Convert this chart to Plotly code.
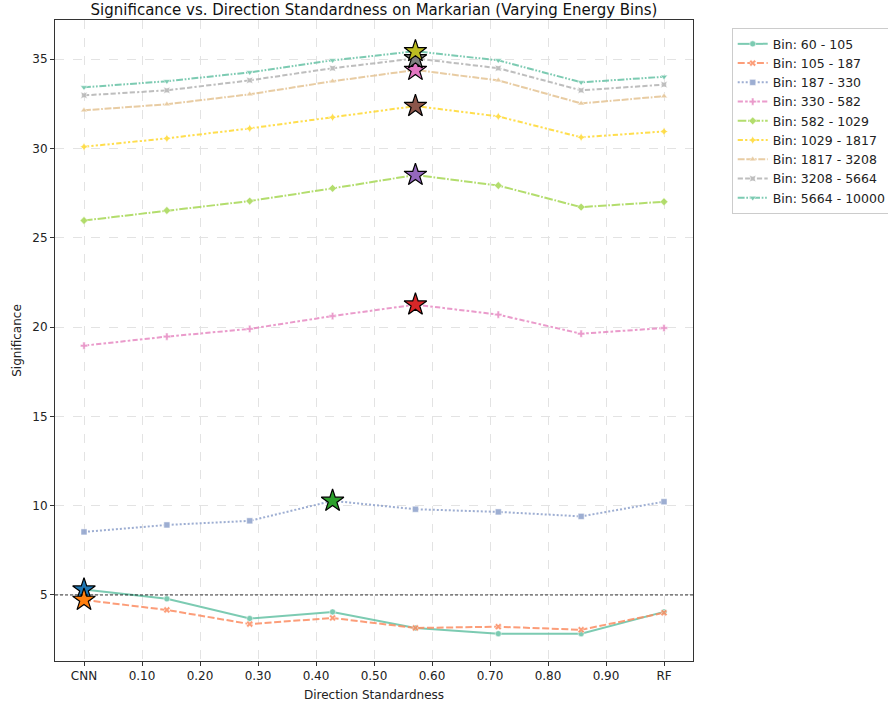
import plotly.graph_objects as go
import numpy as np

# Direction standardness levels (CNN = 0, RF = 1)
standardness = [0, 1/7, 2/7, 3/7, 4/7, 5/7, 6/7, 1]
tick_vals = [0, 0.1, 0.2, 0.3, 0.4, 0.5, 0.6, 0.7, 0.8, 0.9, 1.0]
tick_text = ["CNN", "0.10", "0.20", "0.30", "0.40", "0.50", "0.60", "0.70", "0.80", "0.90", "RF"]

bin_labels = ["Bin: 60 - 105", "Bin: 105 - 187", "Bin: 187 - 330", "Bin: 330 - 582",
              "Bin: 582 - 1029", "Bin: 1029 - 1817", "Bin: 1817 - 3208",
              "Bin: 3208 - 5664", "Bin: 5664 - 10000"]

sig_60_105 = [5.30, 4.78, 3.68, 4.05, 3.15, 2.83, 2.83, 4.05]
sig_105_187 = [4.72, 4.16, 3.37, 3.71, 3.15, 3.22, 3.05, 4.00]
sig_187_330 = [8.53, 8.92, 9.15, 10.27, 9.80, 9.65, 9.40, 10.22]
sig_330_582 = [18.96, 19.47, 19.90, 20.62, 21.26, 20.70, 19.63, 19.95]
sig_582_1029 = [25.97, 26.53, 27.06, 27.77, 28.52, 27.93, 26.72, 27.02]
sig_1029_1817 = [30.10, 30.57, 31.13, 31.75, 32.38, 31.80, 30.63, 30.96]
sig_1817_3208 = [32.14, 32.48, 33.04, 33.77, 34.40, 33.82, 32.53, 32.93]
sig_3208_5664 = [32.98, 33.26, 33.82, 34.50, 35.05, 34.50, 33.26, 33.58]
sig_5664_10000 = [33.43, 33.77, 34.27, 34.94, 35.45, 34.94, 33.71, 34.02]

series = [sig_60_105, sig_105_187, sig_187_330, sig_330_582, sig_582_1029,
          sig_1029_1817, sig_1817_3208, sig_3208_5664, sig_5664_10000]

threshold = 5

line_colors = ["#66c2a5", "#fc8d62", "#8da0cb", "#e78ac3", "#a6d854",
               "#ffd92f", "#e5c494", "#b3b3b3", "#66c2a5"]
star_colors = ["#1f77b4", "#ff7f0e", "#2ca02c", "#d62728", "#9467bd",
               "#8c564b", "#e377c2", "#7f7f7f", "#bcbd22"]
dashes = ["solid", "7px,2.6px", "2px,2px", "5.2px,2.2px,2.6px,2.2px",
          "8.6px,1.7px,1.7px,1.7px",
          "5.2px,2.2px,2.2px,2.2px,2.2px,2.2px",
          "6.9px,1.7px,6.9px,1.7px,1.7px,1.7px",
          "5.2px,2.2px,5.2px,2.2px,2.2px,2.2px",
          "6.9px,1.7px,1.7px,1.7px,1.7px,1.7px"]
symbols = ["circle", "x", "square", "cross", "diamond", "star-diamond",
           "triangle-up", "star-square", "triangle-down"]

fig = go.Figure()

for name, vals, col, dash, sym in zip(bin_labels, series, line_colors, dashes, symbols):
    fig.add_trace(go.Scatter(
        x=standardness, y=vals, name=name, mode="lines+markers",
        line=dict(color=col, width=2, dash=dash),
        marker=dict(symbol=sym, size=6, color=col, line=dict(color="white", width=0.5)),
        opacity=0.85,
    ))

# Star at the best significance of each bin
for vals, sc in zip(series, star_colors):
    i = int(np.argmax(vals))
    fig.add_trace(go.Scatter(
        x=[standardness[i]], y=[vals[i]], mode="markers", showlegend=False,
        marker=dict(symbol="star", size=17, color=sc, line=dict(color="black", width=1.2)),
    ))

fig.add_hline(y=threshold, line=dict(color="black", width=0.8, dash="3px,2px"))

axis_common = dict(
    showline=True, mirror=True, linecolor="#333333", linewidth=1,
    ticks="outside", ticklen=4, tickcolor="#333333",
    showgrid=True, gridcolor="#e3e3e3", griddash="dash", gridwidth=1,
    zeroline=False, tickfont=dict(size=12, color="#222222"), automargin=False,
)

fig.update_xaxes(range=[-0.05, 1.05], tickvals=tick_vals, ticktext=tick_text,
                 title=dict(text="Direction Standardness", font=dict(size=12, color="#222222"), standoff=8),
                 **axis_common)
fig.update_yaxes(range=[1.3, 37.2], tickvals=[5, 10, 15, 20, 25, 30, 35],
                 title=dict(text="Significance", font=dict(size=12, color="#222222"), standoff=8),
                 **axis_common)

fig.update_layout(
    width=888, height=706,
    margin=dict(l=55, r=195, t=20, b=45, autoexpand=False),
    paper_bgcolor="white", plot_bgcolor="white",
    font=dict(family="DejaVu Sans", color="#222222"),
    title=dict(text="Significance vs. Direction Standardness on Markarian (Varying Energy Bins)",
               x=0.5, xref="paper", xanchor="center", y=0.986, yanchor="middle",
               font=dict(size=15, color="#111111")),
    legend=dict(x=0.824, xref="container", xanchor="left", y=0.96, yref="container", yanchor="top",
                bordercolor="#cccccc", borderwidth=1, bgcolor="white",
                font=dict(size=12.5, color="#222222"), itemwidth=30,
                tracegroupgap=0),
)

fig.write_html("out.html")
